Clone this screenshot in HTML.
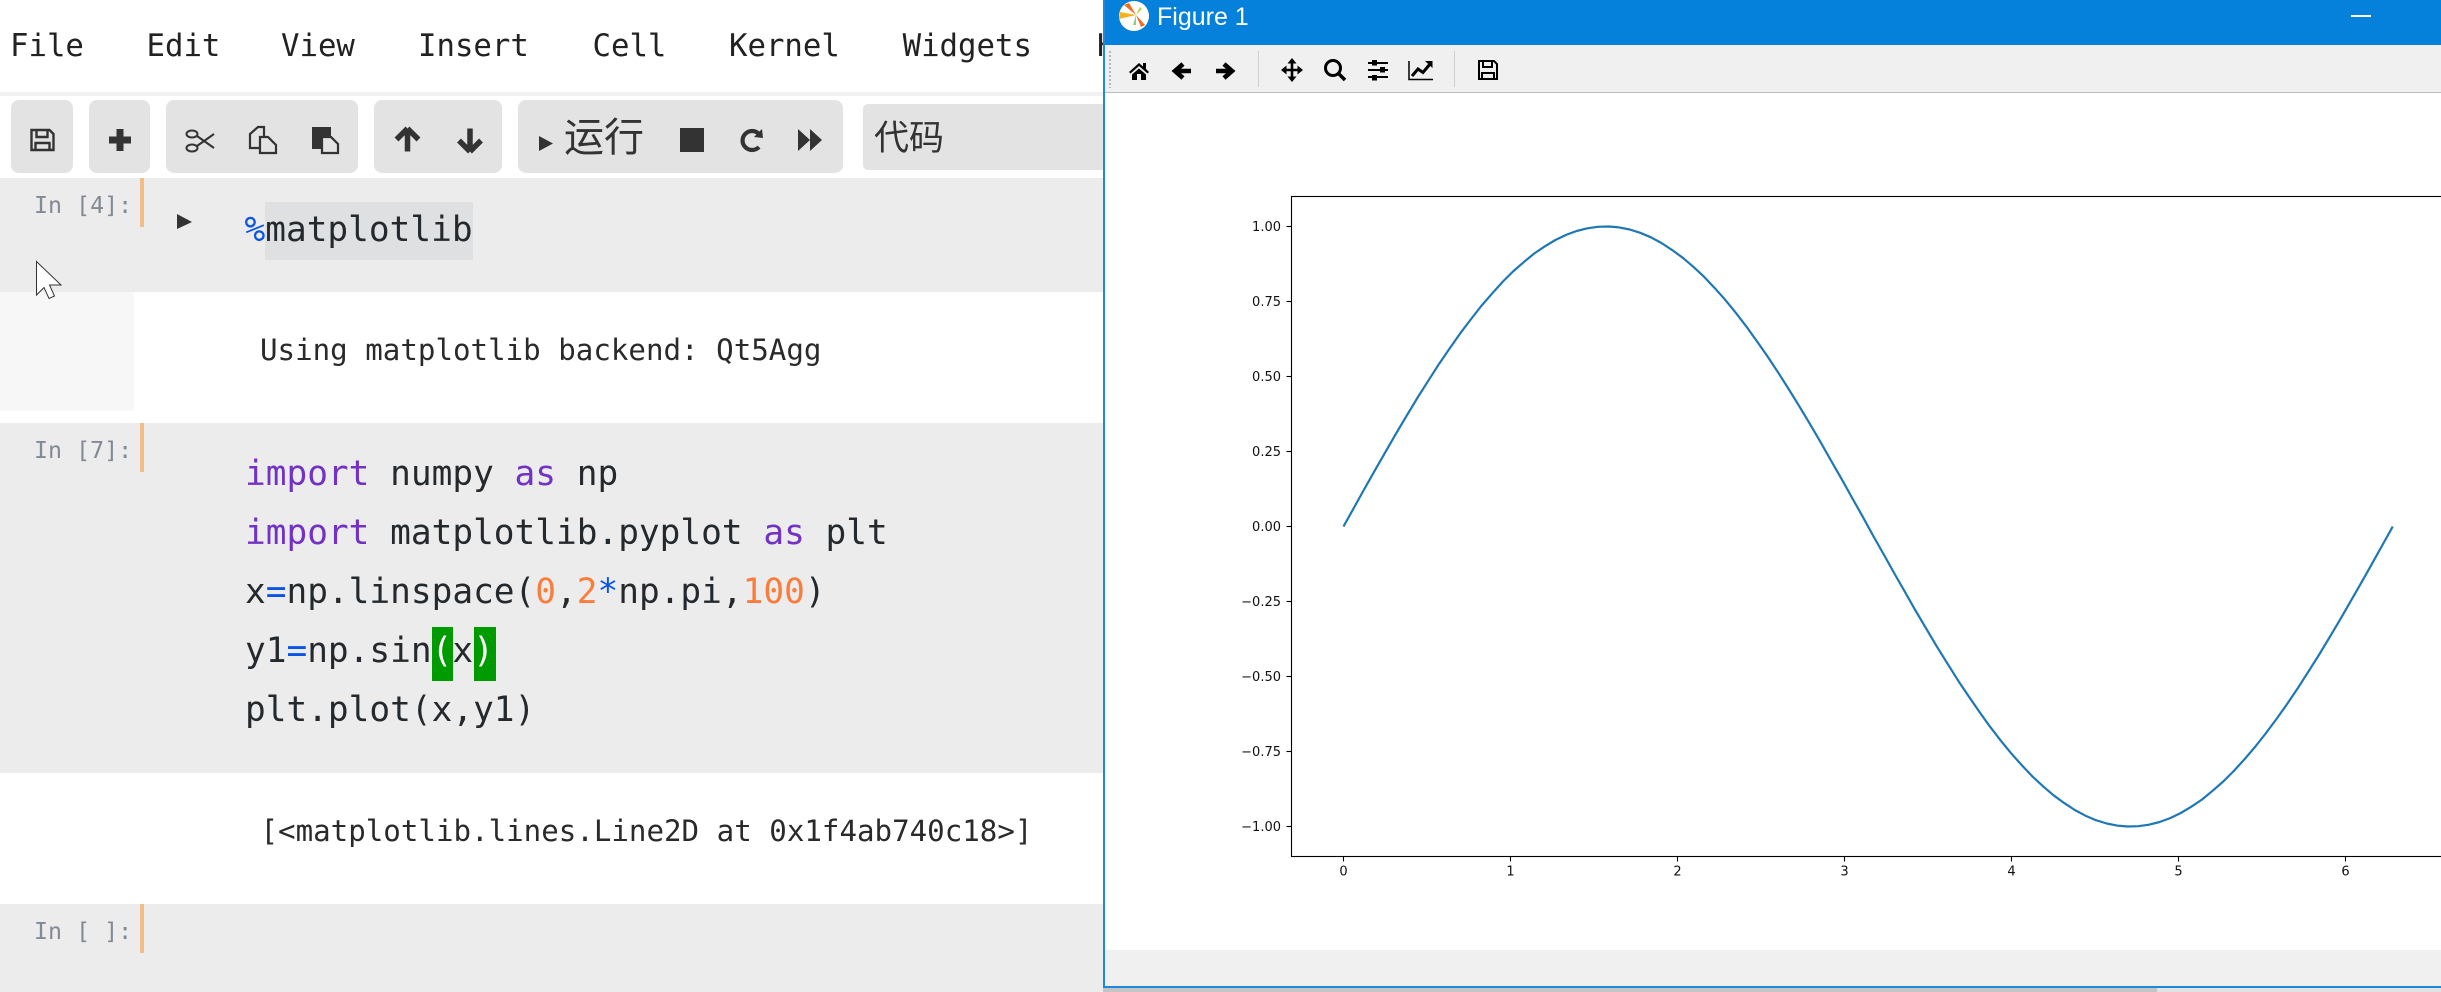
<!DOCTYPE html>
<html lang="en">
<head>
<meta charset="utf-8">
<title>Jupyter notebook with matplotlib Figure 1</title>
<style>
html,body{margin:0;padding:0;width:2441px;height:992px;overflow:hidden;background:#fff;}
#page{position:relative;width:2441px;height:992px;overflow:hidden;}
.abs{position:absolute;}
.t{position:absolute;white-space:pre;font-family:"DejaVu Sans Mono","Liberation Mono",monospace;line-height:40px;height:40px;color:#24292e;}
.menu{font-size:30.7px;top:26.8px;color:#222;}
.prompt{font-size:23.3px;color:#838a96;left:34px;}
.code{font-size:34.45px;left:245px;}
.out{font-size:29.15px;color:#2a2a2a;}
.kw{color:#7233c4;}
.num{color:#fb7d3c;}
.op{color:#0b55e6;}
.wh{color:#fff;}
.btn{position:absolute;background:#e3e3e3;border-radius:8px;top:100px;height:73px;}
.cell{position:absolute;left:0;width:1106px;background:#ececec;}
.bar{position:absolute;left:140px;width:4px;background:#f3bd85;}
.cjk{position:absolute;font-family:"Liberation Sans","Noto Sans CJK SC",sans-serif;color:#333;white-space:pre;}
#win{position:absolute;left:1103px;top:0;width:1338px;height:992px;background:#fff;}
</style>
</head>
<body>
<div id="page">

<div class="abs" style="left:0;top:0;width:1106px;height:992px;background:#fff">
  <div class="t menu" style="left:10px">File</div>
  <div class="t menu" style="left:146.5px">Edit</div>
  <div class="t menu" style="left:281px">View</div>
  <div class="t menu" style="left:418px">Insert</div>
  <div class="t menu" style="left:592.5px">Cell</div>
  <div class="t menu" style="left:729px">Kernel</div>
  <div class="t menu" style="left:902.6px">Widgets</div>
  <div class="t menu" style="left:1097px">Help</div>

  <div class="abs" style="left:0;top:92px;width:1106px;height:4px;background:#f1f1f1"></div>

  <div class="btn" style="left:11px;width:62px"></div>
  <div class="btn" style="left:89px;width:61px"></div>
  <div class="btn" style="left:166px;width:192px"></div>
  <div class="btn" style="left:374px;width:128px"></div>
  <div class="btn" style="left:518px;width:325px"></div>
  <div class="btn" style="left:863px;width:260px;top:104px;height:66px;border-radius:5px"></div>
  <div class="cjk" style="left:564px;top:113.500px;font-size:40px;line-height:48px">运行</div>
  <div class="cjk" style="left:874px;top:116px;font-size:35px;line-height:46px">代码</div>

  <svg class="abs" style="left:0;top:0" width="1106" height="180" viewBox="0 0 1106 180">
    <g transform="translate(42.5,140)" fill="none" stroke="#333" stroke-width="2.4">
      <path d="M-11 -10H7L11 -6V10H-11Z"/><path d="M-6 -10V-3H5V-10"/><path d="M-7 10V3H7V10"/>
    </g>
    <path transform="translate(120,140)" d="M-3.5 -11H3.5V-3.5H11V3.5H3.5V11H-3.5V3.5H-11V-3.5H-3.5Z" fill="#333"/>
    <g transform="translate(200,141)" fill="none" stroke="#333" stroke-width="2">
      <ellipse cx="-8" cy="-7" rx="5.5" ry="3.5"/><ellipse cx="-8" cy="7" rx="5.5" ry="3.5"/><path d="M-3 -5L14 7M-3 5L14 -7"/>
    </g>
    <g transform="translate(263,140)" fill="none" stroke="#333" stroke-width="2.2">
      <path d="M1 -3V-13H-5L-13 -6V8H-3"/><path d="M-3 -3H5L13 5V13H-3Z" fill="#e3e3e3"/>
    </g>
    <g transform="translate(325,140)">
      <path d="M-13 -13H6V-3H-2V9H-13Z" fill="#333"/><path d="M-3 -3H6L13 4V13H-3Z" fill="#e3e3e3" stroke="#333" stroke-width="2.2"/>
    </g>
    <path transform="translate(407.5,140)" d="M0 -11.500L-11 -0.500M0 -11.500L11 -0.500M0 -9V11.500" fill="none" stroke="#333" stroke-width="5.500"/>
    <path transform="translate(470,140)" d="M0 11.500L-11 0.500M0 11.500L11 0.500M0 9V-11.500" fill="none" stroke="#333" stroke-width="5.500"/>
    <path d="M539 136L553 143.5L539 151Z" fill="#333"/>
    <rect x="680" y="128" width="24" height="24" fill="#333"/>
    <g transform="translate(751,140)">
      <path d="M8 -6A9.5 9.5 0 1 0 8 7" fill="none" stroke="#333" stroke-width="4.2"/><path d="M3 -3L12 -2L11 -11Z" fill="#333"/>
    </g>
    <path transform="translate(810,140)" d="M-12 -11L0 0V-11L12 0L0 11V0L-12 11Z" fill="#333"/>
  </svg>

  <div class="cell" style="top:178px;height:114px"></div>
  <div class="bar" style="top:178px;height:49px"></div>
  <div class="t prompt" style="top:186.1px">In [4]:</div>
  <svg class="abs" style="left:170px;top:209px" width="30" height="26"><path d="M7 5L22 13L7 20Z" fill="#333"/></svg>
  <div class="abs" style="left:265px;top:202px;width:208px;height:58px;background:#dfe0e2"></div>
  <div class="t code" style="top:209.8px;left:244.5px"><span class="op">%</span>matplotlib</div>

  <div class="abs" style="left:0;top:292px;width:134px;height:119px;background:#f7f7f7"></div>
  <div class="t out" style="left:260px;top:329.9px">Using matplotlib backend: Qt5Agg</div>

  <div class="cell" style="top:423px;height:350px"></div>
  <div class="bar" style="top:423px;height:49px"></div>
  <div class="t prompt" style="top:431.1px">In [7]:</div>
  <div class="abs" style="left:432px;top:627px;width:21px;height:54px;background:#009b00"></div>
  <div class="abs" style="left:474px;top:627px;width:22px;height:54px;background:#009b00"></div>
  <div class="t code" style="top:454.1px"><span class="kw">import</span> numpy <span class="kw">as</span> np</div>
  <div class="t code" style="top:513.1px"><span class="kw">import</span> matplotlib.pyplot <span class="kw">as</span> plt</div>
  <div class="t code" style="top:571.8px">x<span class="op">=</span>np.linspace(<span class="num">0</span>,<span class="num">2</span><span class="op">*</span>np.pi,<span class="num">100</span>)</div>
  <div class="t code" style="top:631.3px">y1<span class="op">=</span>np.sin<span class="wh">(</span>x<span class="wh">)</span></div>
  <div class="t code" style="top:690.3px">plt.plot(x,y1)</div>

  <div class="t out" style="left:260.5px;top:811.1px">[&lt;matplotlib.lines.Line2D at 0x1f4ab740c18&gt;]</div>

  <div class="cell" style="top:904px;height:88px"></div>
  <div class="bar" style="top:904px;height:49px"></div>
  <div class="t prompt" style="top:911.6px">In [ ]:</div>

  <svg class="abs" style="left:31px;top:256px" width="36" height="48" viewBox="30 256 36 48">
    <path d="M35.5 261.5V295L43 287.5L48 298.5L53.5 296L48.5 285H60Z" fill="#fff" stroke="#333" stroke-width="1"/>
  </svg>
</div>

<div id="win">
  <div class="abs" style="left:0;top:0;width:1338px;height:45px;background:#0580db"></div>
  <div class="abs" style="left:54px;top:0;height:34px;line-height:34px;color:#fff;font-family:'Liberation Sans','DejaVu Sans',sans-serif;font-size:25px;white-space:pre">Figure 1</div>
  <div class="abs" style="left:1248px;top:15px;width:20px;height:2px;background:#fff"></div>
  <div class="abs" style="left:0;top:45px;width:1338px;height:47px;background:#f0f0f0;border-bottom:1px solid #bcbcbc;box-sizing:content-box"></div>
  <div class="abs" style="left:0;top:950px;width:1338px;height:36px;background:#f0f0f0"></div>
  <div class="abs" style="left:0;top:986px;width:1338px;height:2px;background:#1e88dc"></div>
  <div class="abs" style="left:0;top:988px;width:1054px;height:4px;background:#c4c4c4"></div>
  <div class="abs" style="left:1054px;top:988px;width:284px;height:4px;background:#e2e2e2"></div>
  <div class="abs" style="left:0;top:0;width:2px;height:988px;background:#1e88dc"></div>

  <svg class="abs" style="left:0;top:0" width="1338" height="92" viewBox="1103 0 1338 92">
    <g>
      <circle cx="1134" cy="16" r="15" fill="#fff"/>
      <path d="M1136 15L1129 3L1124 5Z" fill="#f26a1b"/>
      <path d="M1136 15L1120 12L1119 19Z" fill="#f9b21a"/>
      <path d="M1136 15L1133 25L1136 25Z" fill="#8fce7a"/>
      <path d="M1136 15L1140 7L1142 9Z" fill="#b4d33c"/>
      <path d="M1136 15L1145 25L1141 27Z" fill="#f26a1b"/>
    </g>
    <path d="M1110 51V88" stroke="#b5b5b5" stroke-width="2" stroke-dasharray="2 2"/>
    <rect x="1258" y="51" width="1" height="36" fill="#d0d0d0"/>
    <rect x="1454" y="51" width="1" height="36" fill="#d0d0d0"/>
    <path transform="translate(1139,71)" d="M-10 1L0 -8L4 -4.5V-8H7V-2L10 1L8.500 2.500L0 -5L-8.500 2.500ZM-7 3.500L0 -2.500L7 3.500V9H2V3H-2V9H-7Z" fill="#000"/>
    <path transform="translate(1182,71)" d="M9 0H-6M1 -7L-7 0L1 7" fill="none" stroke="#000" stroke-width="4.600"/>
    <path transform="translate(1225,71)" d="M-9 0H6M-1 -7L7 0L-1 7" fill="none" stroke="#000" stroke-width="4.600"/>
    <g transform="translate(1292,70)">
      <path d="M-8 0H8M0 -8V8" stroke="#000" stroke-width="2.600"/>
      <path d="M0 -12L-4.500 -6.500H4.500ZM0 12L-4.500 6.500H4.500ZM-11 0L-5.500 -4.500V4.500ZM11 0L5.500 -4.500V4.500Z" fill="#000"/>
    </g>
    <g transform="translate(1335,70)" fill="none" stroke="#000">
      <circle cx="-2" cy="-2" r="7.500" stroke-width="3"/><path d="M3.500 3.500L10 10" stroke-width="3.500"/>
    </g>
    <g transform="translate(1378,70)">
      <path d="M-10 -7H10M-10 0H10M-10 7H10" stroke="#000" stroke-width="2"/>
      <rect x="-6" y="-10" width="5" height="5.500" fill="#000"/><rect x="2" y="-3" width="5" height="5.500" fill="#000"/><rect x="-6" y="5" width="5" height="5.500" fill="#000"/>
    </g>
    <g transform="translate(1421,70)" fill="none" stroke="#000">
      <path d="M-12 -9V9.500H12" stroke-width="1.500"/><path d="M-9 6L-3 -1L2 2.500L9 -6" stroke-width="3"/><path d="M4 -9H11.500V-2Z" fill="#000" stroke="none"/>
    </g>
    <g transform="translate(1488,70)" fill="none" stroke="#000" stroke-width="2">
      <path d="M-9 -9H6L9 -6V9H-9Z"/><path d="M-5 -9V-3H4V-9"/><path d="M-6 9V3H6V9"/>
    </g>
  </svg>

  <svg id="chart" class="abs" style="left:0;top:92px" width="1338" height="858" viewBox="1103 92 1338 858"></svg>
</div>
</div>

<script>
var xValues = [0,0.063,0.127,0.190,0.254,0.317,0.381,0.444,0.508,0.571,0.635,0.698,0.762,0.825,0.889,0.952,1.015,1.079,1.142,1.206,1.269,1.333,1.396,1.460,1.523,1.587,1.650,1.714,1.777,1.841,1.904,1.967,2.031,2.094,2.158,2.221,2.285,2.348,2.412,2.475,2.539,2.602,2.666,2.729,2.793,2.856,2.919,2.983,3.046,3.110,3.173,3.237,3.300,3.364,3.427,3.491,3.554,3.618,3.681,3.745,3.808,3.871,3.935,3.998,4.062,4.125,4.189,4.252,4.316,4.379,4.443,4.506,4.570,4.633,4.697,4.760,4.823,4.887,4.950,5.014,5.077,5.141,5.204,5.268,5.331,5.395,5.458,5.522,5.585,5.649,5.712,5.775,5.839,5.902,5.966,6.029,6.093,6.156,6.220,6.283];
var y1Values = [0,0.063,0.127,0.189,0.251,0.312,0.372,0.430,0.486,0.541,0.593,0.643,0.690,0.735,0.776,0.815,0.850,0.881,0.910,0.934,0.955,0.972,0.985,0.994,0.999,1.000,0.997,0.990,0.979,0.964,0.945,0.922,0.896,0.866,0.833,0.796,0.756,0.713,0.667,0.618,0.567,0.514,0.458,0.401,0.342,0.282,0.220,0.158,0.095,0.032,-0.032,-0.095,-0.158,-0.220,-0.282,-0.342,-0.401,-0.458,-0.514,-0.567,-0.618,-0.667,-0.713,-0.756,-0.796,-0.833,-0.866,-0.896,-0.922,-0.945,-0.964,-0.979,-0.990,-0.997,-1.000,-0.999,-0.994,-0.985,-0.972,-0.955,-0.934,-0.910,-0.881,-0.850,-0.815,-0.776,-0.735,-0.690,-0.643,-0.593,-0.541,-0.486,-0.430,-0.372,-0.312,-0.251,-0.189,-0.127,-0.063,0];
var xTicks = [0,1,2,3,4,5,6];
var xTickLabels = ["0","1","2","3","4","5","6"];
var yTicks = [-1,-0.75,-0.5,-0.25,0,0.25,0.5,0.75,1];
var yTickLabels = ["\u22121.00","\u22120.75","\u22120.50","\u22120.25","0.00","0.25","0.50","0.75","1.00"];

var NS = "http://www.w3.org/2000/svg";
var svg = document.getElementById("chart");
var plotLeft = 1291.5, plotRight = 2445.7, plotTop = 196.5, plotBottom = 856.5;
var xMin = -0.3113, xMax = 6.6, yMin = -1.1, yMax = 1.1;

function xScale(v) { return plotLeft + (v - xMin) / (xMax - xMin) * (plotRight - plotLeft); }
function yScale(v) { return plotBottom - (v - yMin) / (yMax - yMin) * (plotBottom - plotTop); }

var frame = document.createElementNS(NS, "rect");
frame.setAttribute("x", plotLeft);
frame.setAttribute("y", plotTop);
frame.setAttribute("width", plotRight - plotLeft);
frame.setAttribute("height", plotBottom - plotTop);
frame.setAttribute("fill", "none");
frame.setAttribute("stroke", "#000");
frame.setAttribute("stroke-width", "1.1");


svg.appendChild(frame);

xTicks.forEach(function (v, i) {
  var tick = document.createElementNS(NS, "line");
  tick.setAttribute("x1", xScale(v));
  tick.setAttribute("x2", xScale(v));
  tick.setAttribute("y1", plotBottom);
  tick.setAttribute("y2", plotBottom + 5);
  tick.setAttribute("stroke", "#000");
  tick.setAttribute("stroke-width", "1.1");
  
  
  svg.appendChild(tick);
  var label = document.createElementNS(NS, "text");
  label.setAttribute("x", xScale(v));
  label.setAttribute("y", 875.7);
  label.setAttribute("text-anchor", "middle");
  label.setAttribute("font-family", '"DejaVu Sans", sans-serif');
  label.setAttribute("font-size", "13");
  label.setAttribute("fill", "#111");
  
  
  label.textContent = xTickLabels[i];
  svg.appendChild(label);
});

yTicks.forEach(function (v, i) {
  var tick = document.createElementNS(NS, "line");
  tick.setAttribute("x1", plotLeft - 5);
  tick.setAttribute("x2", plotLeft);
  tick.setAttribute("y1", yScale(v));
  tick.setAttribute("y2", yScale(v));
  tick.setAttribute("stroke", "#000");
  tick.setAttribute("stroke-width", "1.1");
  
  
  svg.appendChild(tick);
  var label = document.createElementNS(NS, "text");
  label.setAttribute("x", 1281);
  label.setAttribute("y", yScale(v) + 4.7);
  label.setAttribute("text-anchor", "end");
  label.setAttribute("font-family", '"DejaVu Sans", sans-serif');
  label.setAttribute("font-size", "13");
  label.setAttribute("fill", "#111");
  
  
  label.textContent = yTickLabels[i];
  svg.appendChild(label);
});

var points = xValues.map(function (v, i) { return xScale(v).toFixed(2) + "," + yScale(y1Values[i]).toFixed(2); }).join(" ");
var line = document.createElementNS(NS, "polyline");
line.setAttribute("points", points);
line.setAttribute("fill", "none");
line.setAttribute("stroke", "#1f77b4");
line.setAttribute("stroke-width", "2.2");
line.setAttribute("stroke-linejoin", "round");


svg.appendChild(line);
</script>
</body>
</html>
